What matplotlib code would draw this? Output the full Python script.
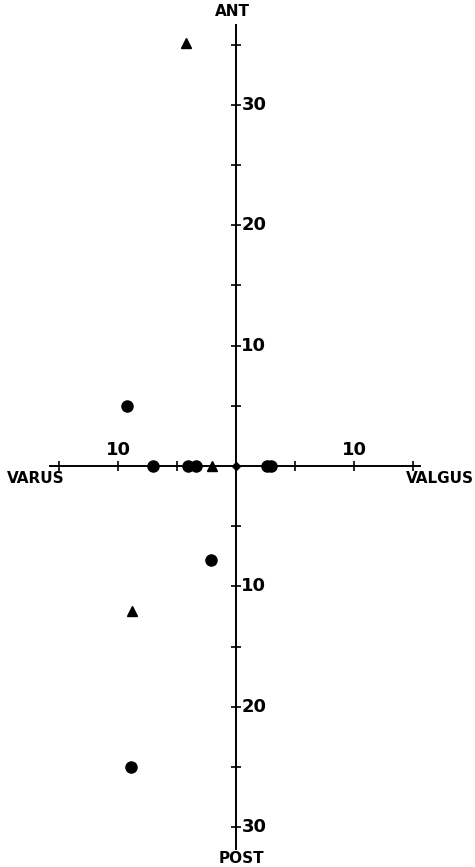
import matplotlib
matplotlib.use("Agg")
import matplotlib.pyplot as plt

# Data (varus(-)/valgus(+) deg, posterior(-)/anterior(+) mm)
circle_x = [-9.2, -7.0, -4.1, -3.4, -2.1, 2.6, 3.0, -8.9]
circle_y = [5.0, 0.0, 0.0, 0.0, -7.8, 0.0, 0.0, -25.0]
tri_x = [-4.2, -2.0, -8.8]
tri_y = [35.1, 0.0, -12.0]
origin_x = [0.0]
origin_y = [0.0]

x_ticks = [-15, -10, -5, 5, 10, 15]
y_ticks = [35, 30, 25, 20, 15, 10, 5, -5, -10, -15, -20, -25, -30]
x_labels = {-10: "10", 10: "10"}
y_labels = {30: "30", 20: "20", 10: "10", -10: "10", -20: "20", -30: "30"}

fig = plt.figure(figsize=(4.75, 8.67), dpi=100)
ax = fig.add_axes([0, 0, 1, 1])
ax.set_xlim(-20.0, 20.25)
ax.set_ylim(-33.3, 38.7)
ax.axis("off")

font = dict(family=["DejaVu Sans"], fontweight="bold", color="black")

# axes lines
ax.plot([-15.8, 15.6], [0, 0], color="black", lw=1.4, zorder=1)
ax.plot([0, 0], [-31.8, 36.6], color="black", lw=1.4, zorder=1)

# tick crosses
ax.plot(x_ticks, [0] * len(x_ticks), linestyle="none", marker="|", ms=7, mew=1.2, color="black")
ax.plot([0] * len(y_ticks), y_ticks, linestyle="none", marker="_", ms=7, mew=1.2, color="black")

for xv, lab in x_labels.items():
    ax.text(xv, 0.6, lab, ha="center", va="bottom", fontsize=13, **font)
for yv, lab in y_labels.items():
    ax.text(0.45, yv, lab, ha="left", va="center", fontsize=13, **font)

ax.text(-0.3, 37.1, "ANT", ha="center", va="bottom", fontsize=11, **font)
ax.text(0.5, -32.0, "POST", ha="center", va="top", fontsize=11, **font)
ax.text(-19.4, -1.0, "VARUS", ha="left", va="center", fontsize=11, **font)
ax.text(20.2, -1.0, "VALGUS", ha="right", va="center", fontsize=11, **font)

# data
ax.plot(circle_x, circle_y, linestyle="none", marker="o", ms=8, color="black", zorder=3)
ax.plot(tri_x, tri_y, linestyle="none", marker="^", ms=7.5, color="black", zorder=3)
ax.plot(origin_x, origin_y, linestyle="none", marker="D", ms=4, color="black", zorder=3)

fig.savefig("out.png", dpi=100, facecolor="white")
